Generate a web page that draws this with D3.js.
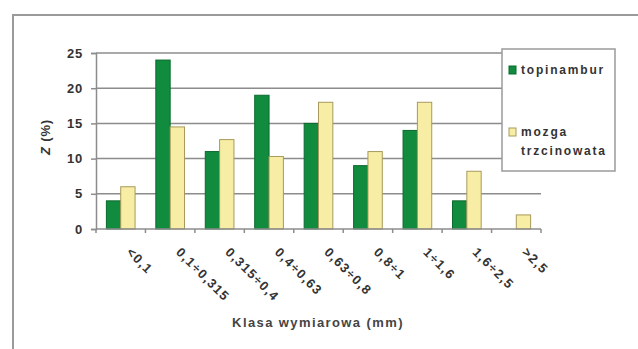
<!DOCTYPE html>
<html>
<head>
<meta charset="utf-8">
<script src="https://cdn.jsdelivr.net/npm/d3@7"></script>
<style>
  body { margin: 0; background: #fff; }
  text { font-family: "Liberation Sans", Arial, sans-serif; font-weight: bold; }
</style>
</head>
<body>
<div id="chart"></div>
<script>
// categories and values
var categories = ["<0,1", "0,1÷0,315", "0,315÷0,4", "0,4÷0,63", "0,63÷0,8", "0,8÷1", "1÷1,6", "1,6÷2,5", ">2,5"];
var topinambur = [4, 24, 11, 19, 15, 9, 14, 4, 0];
var mozga = [6, 14.5, 12.7, 10.3, 18, 11, 18, 8.2, 2];
var seriesNames = ["topinambur", "mozga trzcinowata"];
var yTicks = [0, 5, 10, 15, 20, 25];

var W = 638, H = 349;
var svg = d3.select("#chart").append("svg")
    .attr("width", W)
    .attr("height", H);

// outer frame (cut at right and bottom)
svg.append("rect")
    .attr("x", 13).attr("y", 15)
    .attr("width", 700).attr("height", 400)
    .attr("fill", "none")
    .attr("stroke", "#9a9a9a")
    .attr("stroke-width", 2);

// scales
var x0 = d3.scaleBand()
    .domain(categories)
    .range([96, 541])
    .paddingInner(0.42)
    .paddingOuter(0.21);

var x1 = d3.scaleBand()
    .domain(seriesNames)
    .range([0, x0.bandwidth()]);

var y = d3.scaleLinear()
    .domain([0, 25])
    .range([229, 53]);

// gridlines
svg.append("g").selectAll("line")
    .data(yTicks.filter(function (d) { return d > 0; }))
    .enter().append("line")
    .attr("x1", 96).attr("x2", 541)
    .attr("y1", function (d) { return y(d); })
    .attr("y2", function (d) { return y(d); })
    .attr("stroke", "#8c8c8c")
    .attr("stroke-width", 1.5);

// y axis
var yAxis = svg.append("g")
    .attr("transform", "translate(96,0)")
    .call(d3.axisLeft(y).tickValues(yTicks).tickSize(5).tickPadding(8));
yAxis.select(".domain").attr("stroke", "#8c8c8c").attr("stroke-width", 1.5);
yAxis.selectAll(".tick line").attr("stroke", "#8c8c8c").attr("stroke-width", 1.5);
yAxis.selectAll(".tick text")
    .attr("font-size", 13)
    .attr("letter-spacing", 0.8)
    .attr("font-family", "Liberation Sans, Arial, sans-serif")
    .attr("font-weight", "bold")
    .attr("fill", "#333");

// bars
var groups = svg.append("g").selectAll("g")
    .data(categories)
    .enter().append("g")
    .attr("transform", function (d) { return "translate(" + x0(d) + ",0)"; });

groups.append("rect")
    .attr("x", x1("topinambur"))
    .attr("y", function (d, i) { return y(topinambur[i]); })
    .attr("width", x1.bandwidth())
    .attr("height", function (d, i) { return y(0) - y(topinambur[i]); })
    .attr("fill", "#118c3e")
    .attr("stroke", function (d, i) { return topinambur[i] > 0 ? "#0b6a2e" : "none"; })
    .attr("stroke-width", 1);

groups.append("rect")
    .attr("x", x1("mozga trzcinowata"))
    .attr("y", function (d, i) { return y(mozga[i]); })
    .attr("width", x1.bandwidth())
    .attr("height", function (d, i) { return y(0) - y(mozga[i]); })
    .attr("fill", "#f8eda4")
    .attr("stroke", "#a89a5c")
    .attr("stroke-width", 1);

// x axis line with ticks at category borders
svg.append("line")
    .attr("x1", 96).attr("x2", 541)
    .attr("y1", y(0)).attr("y2", y(0))
    .attr("stroke", "#8c8c8c")
    .attr("stroke-width", 1.5);

var borders = d3.range(categories.length + 1).map(function (i) { return 96 + i * x0.step(); });
svg.append("g").selectAll("line")
    .data(borders)
    .enter().append("line")
    .attr("x1", function (d) { return d; })
    .attr("x2", function (d) { return d; })
    .attr("y1", y(0)).attr("y2", y(0) + 4)
    .attr("stroke", "#8c8c8c")
    .attr("stroke-width", 1.5);

// rotated category labels
svg.append("g").selectAll("text")
    .data(categories)
    .enter().append("text")
    .attr("transform", function (d) {
        return "translate(" + (x0(d) + x0.bandwidth() / 2 + 5) + "," + (y(0) + 24) + ") rotate(45)";
    })
    .attr("text-anchor", "start")
    .attr("font-size", 13)
    .attr("letter-spacing", 1.3)
    .attr("fill", "#333")
    .text(function (d) { return d; });

// axis titles
svg.append("text")
    .attr("x", 318)
    .attr("y", 327)
    .attr("text-anchor", "middle")
    .attr("font-size", 13)
    .attr("letter-spacing", 1.4)
    .attr("fill", "#444")
    .text("Klasa wymiarowa (mm)");

svg.append("text")
    .attr("transform", "translate(50,137) rotate(-90)")
    .attr("text-anchor", "middle")
    .attr("font-size", 13)
    .attr("letter-spacing", 0.8)
    .attr("fill", "#333")
    .html("<tspan font-style='italic'>Z</tspan> (%)");

// legend
var legend = svg.append("g");
legend.append("rect")
    .attr("x", 502).attr("y", 49)
    .attr("width", 113).attr("height", 122)
    .attr("fill", "#fff")
    .attr("stroke", "#9a9a9a")
    .attr("stroke-width", 1.5);

var legendItems = [
    {name: "topinambur", lines: ["topinambur"], fill: "#118c3e", stroke: "#0b6a2e", y: 70},
    {name: "mozga trzcinowata", lines: ["mozga", "trzcinowata"], fill: "#f8eda4", stroke: "#a89a5c", y: 132}
];

legendItems.forEach(function (d) {
    legend.append("rect")
        .attr("x", 509).attr("y", d.y - 4)
        .attr("width", 7).attr("height", 8)
        .attr("fill", d.fill)
        .attr("stroke", d.stroke)
        .attr("stroke-width", 1);
    d.lines.forEach(function (t, j) {
        legend.append("text")
            .attr("x", 521)
            .attr("y", d.y + 4 + j * 19)
            .attr("font-size", 12)
            .attr("letter-spacing", 1.8)
            .attr("fill", "#333")
            .text(t);
    });
});
</script>
</body>
</html>
